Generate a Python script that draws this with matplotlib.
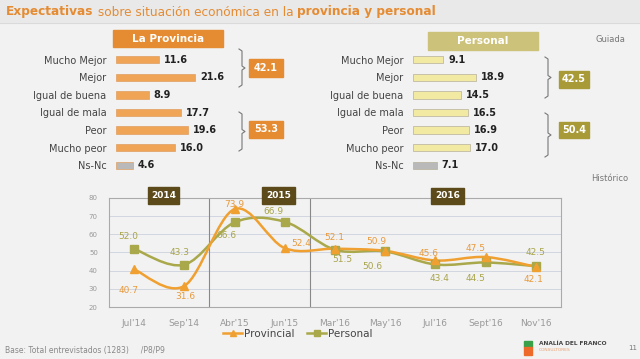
import numpy as np
import matplotlib
matplotlib.use("Agg")
import matplotlib.pyplot as plt
from matplotlib.path import Path
from matplotlib.patches import PathPatch, Rectangle
from matplotlib.lines import Line2D

# data
cats = ["Mucho Mejor", "Mejor", "Igual de buena", "Igual de mala", "Peor", "Mucho peor", "Ns-Nc"]
prov_vals = [11.6, 21.6, 8.9, 17.7, 19.6, 16.0, 4.6]
pers_vals = [9.1, 18.9, 14.5, 16.5, 16.9, 17.0, 7.1]
prov_totals = ["42.1", "53.3"]
pers_totals = ["42.5", "50.4"]

months = ["Jul'14", "Sep'14", "Abr'15", "Jun'15", "Mar'16", "May'16", "Jul'16", "Sept'16", "Nov'16"]
provincial = [40.7, 31.6, 73.9, 52.4, 52.1, 50.9, 45.6, 47.5, 42.1]
personal = [52.0, 43.3, 66.6, 66.9, 51.5, 50.6, 43.4, 44.5, 42.5]
years = ["2014", "2015", "2016"]

W, H = 640, 359
BG = "#f2f2f2"
ORANGE = "#e58b32"
BAR_OR = "#f0a455"
OLIVE_HDR = "#cdc27a"
OLIVE_BOX = "#a99a38"
BAR_YL = "#f2e9a2"
GRAY_BAR = "#b9b9b9"
C_PROV = "#f0a030"
C_PERS = "#a9a84a"

fig = plt.figure(figsize=(W / 100, H / 100), dpi=100, facecolor=BG)


def px_axes(l, t, r, b):
    return fig.add_axes([l / W, 1 - b / H, (r - l) / W, (b - t) / H])


def fx(x):
    return x / W


def fy(y):
    return 1 - y / H


def box(l, t, r, b, color, text, size=7, tcolor="white"):
    fig.patches.append(Rectangle((fx(l), fy(b)), (r - l) / W, (b - t) / H,
                                 transform=fig.transFigure, color=color, zorder=1))
    fig.text(fx((l + r) / 2), fy((t + b) / 2), text, color=tcolor, fontsize=size,
             fontweight="bold", ha="center", va="center")


def brace(x, t, b):
    m = (t + b) / 2
    xs = [x - 3, x, x, x + 3, x, x, x - 3]
    ys = [t, t + 2, m - 2, m, m + 2, b - 2, b]
    fig.lines.append(Line2D([fx(v) for v in xs], [fy(v) for v in ys],
                            transform=fig.transFigure, color="#777777", lw=0.8))


# title band
fig.patches.append(Rectangle((0, fy(23)), 1, 23 / H, transform=fig.transFigure,
                             color="#e9e9e9", zorder=0))
fig.lines.append(Line2D([0, 1], [fy(23), fy(23)], transform=fig.transFigure,
                        color="#d8d8d8", lw=0.6))
renderer = fig.canvas.get_renderer()
x0 = fx(6)
for piece, wt in [("Expectativas", "bold"), (" sobre situación económica en la ", "normal"),
                  ("provincia y personal", "bold")]:
    t = fig.text(x0, fy(12), piece, color=ORANGE, fontsize=8.7, fontweight=wt, va="center")
    bb = t.get_window_extent(renderer)
    x0 += bb.width / W


def bar_panel(l, r, vals, color, edge):
    ax = px_axes(l, 51, r, 174)
    ax.set_facecolor("none")
    y = np.arange(len(cats))
    colors = [color] * (len(vals) - 1) + [GRAY_BAR]
    ax.barh(y, vals, height=0.42, color=colors, edgecolor=edge, linewidth=0.5)
    ax.set_xlim(0, 30)
    ax.set_ylim(len(cats) - 0.5, -0.5)
    ax.set_yticks(y)
    ax.set_yticklabels(cats, fontsize=7, color="#444444")
    ax.tick_params(axis="y", length=0, pad=7)
    ax.set_xticks([])
    for s in ax.spines.values():
        s.set_visible(False)
    for yi, v in zip(y, vals):
        ax.annotate(f"{v:.1f}", (v, yi), xytext=(5, 0), textcoords="offset pixels",
                    fontsize=7, fontweight="bold", color="#222222", va="center")
    return ax


bar_panel(116, 226, prov_vals, BAR_OR, "#e0a060")
bar_panel(413, 513, pers_vals, BAR_YL, "#b5b09a")

box(113, 30, 223, 47, ORANGE, "La Provincia", 7.5)
box(428, 32, 538, 50, OLIVE_HDR, "Personal", 7.5)

brace(242, 49, 87)
brace(242, 112, 151)
brace(548, 57, 98)
brace(548, 113, 157)
box(249, 59, 283, 77, ORANGE, prov_totals[0])
box(249, 121, 283, 138, ORANGE, prov_totals[1])
box(559, 71, 589, 88, OLIVE_BOX, pers_totals[0])
box(559, 122, 589, 138, OLIVE_BOX, pers_totals[1])

fig.text(fx(610), fy(39), "Guiada", fontsize=6, color="#777777", ha="center", va="center")
fig.text(fx(610), fy(178), "Histórico", fontsize=6, color="#777777", ha="center", va="center")

# line chart
ax = px_axes(109, 198, 561, 307)
ax.set_facecolor("none")
x = np.arange(len(months))


def smooth(xs, ys):
    pts = np.column_stack([xs, ys]).astype(float)
    verts = [pts[0]]
    codes = [Path.MOVETO]
    n = len(pts)
    for i in range(n - 1):
        p0 = pts[i - 1] if i > 0 else pts[i]
        p1, p2 = pts[i], pts[i + 1]
        p3 = pts[i + 2] if i + 2 < n else pts[i + 1]
        verts += [p1 + (p2 - p0) / 6, p2 - (p3 - p1) / 6, p2]
        codes += [Path.CURVE4] * 3
    return Path(verts, codes)


ax.add_patch(PathPatch(smooth(x, personal), fill=False, edgecolor=C_PERS, lw=1.8, zorder=3))
ax.add_patch(PathPatch(smooth(x, provincial), fill=False, edgecolor=C_PROV, lw=1.8, zorder=4))
ax.plot(x, personal, ls="none", marker="s", ms=5.5, color=C_PERS, zorder=5)
ax.plot(x, provincial, ls="none", marker="^", ms=6, color=C_PROV, zorder=6)

ax.set_xlim(-0.5, len(months) - 0.5)
ax.set_ylim(20, 80)
ax.set_yticks(range(20, 81, 10))
ax.set_xticks(x)
ax.set_xticklabels(months)
ax.tick_params(axis="y", length=0, labelsize=5, labelcolor="#999999", pad=8)
ax.tick_params(axis="x", length=0, labelsize=6.5, labelcolor="#999999", pad=9)
ax.grid(axis="y", color="#d0d6e0", lw=0.7)
for s in ax.spines.values():
    s.set_color("#aaaaaa")
    s.set_linewidth(0.8)
ax.axvline(1.5, color="#888888", lw=0.8)
ax.axvline(3.5, color="#888888", lw=0.8)

prov_off = [(-6, -21), (1, -11), (0, 5), (16, 5), (-1, 11), (-9, 9), (-7, 7), (-10, 9), (-2, -13)]
pers_off = [(-6, 12), (-5, 12), (-8, -13), (-11, 10), (7, -10), (-13, -15), (4, -14), (-10, -16), (0, 14)]
for xi, v, o in zip(x, provincial, prov_off):
    ax.annotate(f"{v:.1f}", (xi, v), xytext=o, textcoords="offset pixels", ha="center",
                va="center", fontsize=6.5, color="#e89a3c", zorder=7)
for xi, v, o in zip(x, personal, pers_off):
    ax.annotate(f"{v:.1f}", (xi, v), xytext=o, textcoords="offset pixels", ha="center",
                va="center", fontsize=6.5, color="#a8a44a", zorder=7)

box(148, 187, 179, 204, "#5c4a1a", years[0], 6.5)
box(262, 187, 295, 204, "#5c4a1a", years[1], 6.5)
box(431, 188, 464, 204, "#5c4a1a", years[2], 6.5)

handles = [Line2D([], [], color=C_PROV, marker="^", ms=5, lw=1.8),
           Line2D([], [], color=C_PERS, marker="s", ms=4.5, lw=1.8)]
fig.legend(handles, ["Provincial", "Personal"], loc="center", bbox_to_anchor=(fx(298), fy(334)),
           ncol=2, frameon=False, fontsize=7.5, handlelength=1.8, handletextpad=0.2,
           columnspacing=1.2, labelcolor="#444444")

# footer
fig.text(fx(5), fy(350), "Base: Total entrevistados (1283)     /P8/P9", fontsize=5.5,
         color="#888888", va="center")
fig.patches.append(Rectangle((fx(524), fy(347)), 8 / W, 6 / H, transform=fig.transFigure,
                             color="#3aa04a"))
fig.patches.append(Rectangle((fx(524), fy(355)), 8 / W, 8 / H, transform=fig.transFigure,
                             color="#ee6a2a"))
fig.text(fx(539), fy(343), "ANALÍA DEL FRANCO", fontsize=4.2, fontweight="bold",
         color="#444444", va="center")
fig.text(fx(539), fy(350), "CONSULTORES", fontsize=3.2, color="#e8a070", va="center")
fig.text(fx(628), fy(348), "11", fontsize=5, color="#777777", va="center")

fig.savefig("out.png", dpi=100, facecolor=BG)
